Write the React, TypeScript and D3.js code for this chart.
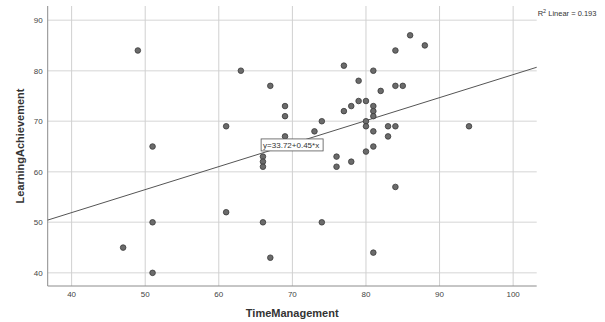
import React, { useEffect, useRef } from 'react';
import * as d3 from 'd3';

// TimeManagement (x) vs LearningAchievement (y)
const timeManagement = [
  49, 51, 51, 47, 51, 63, 61, 61, 67, 69, 69, 74, 73, 69, 77, 81, 79, 86, 88, 84,
  82, 84, 85, 79, 80, 78, 77, 81, 81, 81, 80, 80, 83, 84, 81, 83, 81, 80, 66, 66,
  66, 76, 76, 78, 84, 66, 74, 67, 81, 94,
];
const learningAchievement = [
  84, 65, 50, 45, 40, 80, 69, 52, 77, 73, 71, 70, 68, 67, 81, 80, 78, 87, 85, 84,
  76, 77, 77, 74, 74, 73, 72, 73, 72, 71, 70, 69, 69, 69, 68, 67, 65, 64, 63, 62,
  61, 63, 61, 62, 57, 50, 50, 43, 44, 69,
];
const xTicks = [40, 50, 60, 70, 80, 90, 100];
const yTicks = [40, 50, 60, 70, 80, 90];
// fit line (label shows rounded coefficients)
const intercept = 33.72;
const slope = 0.455;
const equationLabel = 'y=33.72+0.45*x';
const rSquared = 0.193;

export default function App() {
  const svgRef = useRef<SVGSVGElement>(null);

  useEffect(() => {
    if (!svgRef.current) return;
    d3.select(svgRef.current).selectAll('*').remove();

    const W = 605;
    const H = 322;
    const left = 47.7, right = 536.7, top = 6, bottom = 286;
    const font = 'Liberation Sans, Arial, sans-serif';

    const svg = d3.select(svgRef.current).attr('width', W).attr('height', H);

    const x = d3.scaleLinear().domain([36.75, 103.2]).range([left, right]);
    const y = d3.scaleLinear().domain([37.4, 92.8]).range([bottom, top]);

    // grid
    svg.append('g')
      .selectAll('line')
      .data(yTicks)
      .enter()
      .append('line')
      .attr('x1', left)
      .attr('x2', right)
      .attr('y1', d => y(d))
      .attr('y2', d => y(d))
      .attr('stroke', '#e3e3e3')
      .attr('stroke-width', 1.5);

    svg.append('g')
      .selectAll('line')
      .data(xTicks)
      .enter()
      .append('line')
      .attr('x1', d => x(d))
      .attr('x2', d => x(d))
      .attr('y1', top)
      .attr('y2', bottom)
      .attr('stroke', '#d0d0d0')
      .attr('stroke-width', 1);

    // axes lines
    svg.append('line')
      .attr('x1', left).attr('x2', left).attr('y1', top).attr('y2', bottom)
      .attr('stroke', '#8c8c8c').attr('stroke-width', 1);
    svg.append('line')
      .attr('x1', left).attr('x2', right).attr('y1', bottom).attr('y2', bottom)
      .attr('stroke', '#8c8c8c').attr('stroke-width', 1);

    // tick labels
    svg.append('g')
      .selectAll('text')
      .data(yTicks)
      .enter()
      .append('text')
      .attr('x', left - 5)
      .attr('y', d => y(d) + 3)
      .attr('text-anchor', 'end')
      .attr('font-family', font)
      .attr('font-size', 8)
      .attr('fill', '#444')
      .text(d => d);

    svg.append('g')
      .selectAll('text')
      .data(xTicks)
      .enter()
      .append('text')
      .attr('x', d => x(d))
      .attr('y', bottom + 11)
      .attr('text-anchor', 'middle')
      .attr('font-family', font)
      .attr('font-size', 8)
      .attr('fill', '#444')
      .text(d => d);

    // axis titles
    svg.append('text')
      .attr('x', (left + right) / 2)
      .attr('y', 317)
      .attr('text-anchor', 'middle')
      .attr('font-family', font)
      .attr('font-size', 11)
      .attr('font-weight', 'bold')
      .attr('fill', '#333')
      .text('TimeManagement');

    svg.append('text')
      .attr('transform', `translate(24,${(top + bottom) / 2}) rotate(-90)`)
      .attr('text-anchor', 'middle')
      .attr('font-family', font)
      .attr('font-size', 11)
      .attr('font-weight', 'bold')
      .attr('fill', '#333')
      .text('LearningAchievement');

    // fit line
    const [x0, x1] = x.domain();
    svg.append('line')
      .attr('x1', x(x0))
      .attr('y1', y(intercept + slope * x0))
      .attr('x2', x(x1))
      .attr('y2', y(intercept + slope * x1))
      .attr('stroke', '#555')
      .attr('stroke-width', 1);

    // points
    svg.append('g')
      .selectAll('circle')
      .data(timeManagement.map((t, i) => [t, learningAchievement[i]]))
      .enter()
      .append('circle')
      .attr('cx', d => x(d[0]))
      .attr('cy', d => y(d[1]))
      .attr('r', 2.8)
      .attr('fill', '#6b6b6b')
      .attr('stroke', '#3a3a3a')
      .attr('stroke-width', 0.8);

    // equation label
    const lbl = svg.append('g').attr('transform', `translate(${x(65.75)},${y(66.5)})`);
    lbl.append('rect')
      .attr('width', 62)
      .attr('height', 12)
      .attr('fill', '#fff')
      .attr('stroke', '#555')
      .attr('stroke-width', 0.8);
    lbl.append('text')
      .attr('x', 2)
      .attr('y', 9)
      .attr('font-family', font)
      .attr('font-size', 8)
      .attr('fill', '#333')
      .text(equationLabel);

    // R2 note
    const r2 = svg.append('text')
      .attr('x', right + 1)
      .attr('y', 16)
      .attr('font-family', font)
      .attr('font-size', 7.5)
      .attr('fill', '#333');
    r2.append('tspan').text('R');
    r2.append('tspan').attr('dy', -3).attr('font-size', 5.5).text('2');
    r2.append('tspan').attr('dy', 3).text(` Linear = ${rSquared}`);
  }, []);

  return (
    <div style={{ position: 'absolute', left: 0, top: 0 }}>
      <svg ref={svgRef}></svg>
    </div>
  );
}
